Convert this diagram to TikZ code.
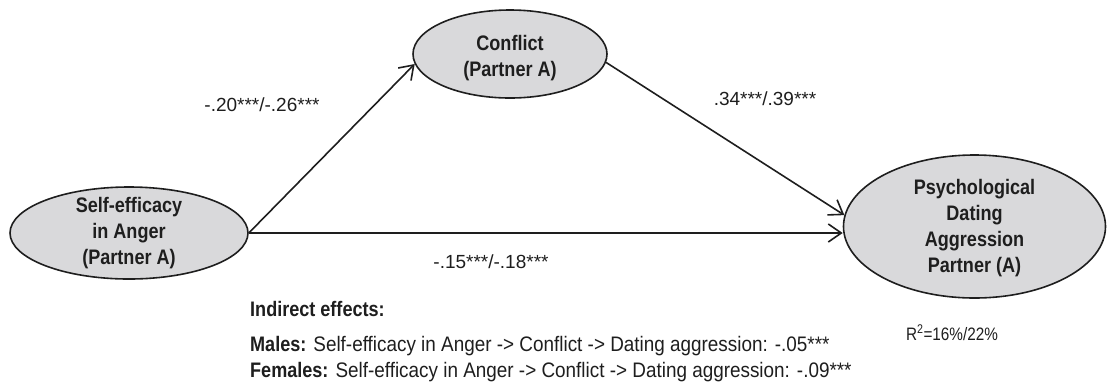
\documentclass[tikz,border=0pt]{standalone}
\usepackage{fontspec}
\setmainfont{Liberation Sans}
\newfontfamily\condb{Liberation Sans}[FakeStretch=0.86]
\newfontfamily\condr{Liberation Sans}[FakeStretch=0.9]
\newfontfamily\condrr{Liberation Sans}[FakeStretch=0.85]
\usetikzlibrary{arrows.meta,calc,shapes.geometric}
\definecolor{ellfill}{RGB}{217,217,219}
\definecolor{ink}{RGB}{30,30,30}
\begin{document}
\begin{tikzpicture}[x=1pt,y=-1pt,
  ell/.style={ellipse, draw=ink, line width=1.6pt, fill=ellfill, inner sep=0pt},
  elltext/.style={align=center, inner sep=0pt, font=\condb\bfseries\fontsize{21}{26}\selectfont, text=ink},
  coef/.style={anchor=base, inner sep=0pt, font=\fontsize{19}{23}\selectfont, text=ink},
  note/.style={anchor=base west, inner sep=0pt, font=\condr\fontsize{21}{26}\selectfont, text=ink},
  conn/.style={draw=ink, line width=1.6pt, -{Straight Barb[length=13pt,width=18pt]}}]
\useasboundingbox (0,0) rectangle (1108,384);

% ellipses
\node[ell, minimum width=238pt, minimum height=92pt] (L) at (129,233) {};
\node[elltext] (Lt) at (129,233) {Self-efficacy\\in Anger\\(Partner A)};
\node[ell, minimum width=194pt, minimum height=88pt] (C) at (510,54) {};
\node[elltext] (Ct) at (510,58) {Conflict\\(Partner A)};
\node[ell, minimum width=262pt, minimum height=143pt] (R) at (974.5,226.5) {};
\node[elltext] (Rt) at (974.5,228) {Psychological\\Dating\\Aggression\\Partner (A)};

% connectors
\draw[conn] (L.east) -- (C.186);
\draw[conn] (C.-5) -- (R.175);
\draw[conn] (L.east) -- (L.east -| R.west);

% coefficients
\node[coef] (a) at (262,111.5) {-.20***/-.26***};
\node[coef] (b) at (765,105) {.34***/.39***};
\node[coef] (c) at (491,268) {-.15***/-.18***};
\node[coef, font=\condrr\fontsize{18}{22}\selectfont] (r2) at (952,340) {R\textsuperscript{2}=16\%/22\%};

% indirect effects
\node[note] (ind) at (250,316.7) {\condb\bfseries Indirect effects:};
\node[note] (m) at (250,351.7) {{\condb\bfseries Males:} Self-efficacy in Anger -> Conflict -> Dating aggression: -.05***};
\node[note] (f) at (250,377) {{\condb\bfseries Females:} Self-efficacy in Anger -> Conflict -> Dating aggression: -.09***};
\end{tikzpicture}
\end{document}
